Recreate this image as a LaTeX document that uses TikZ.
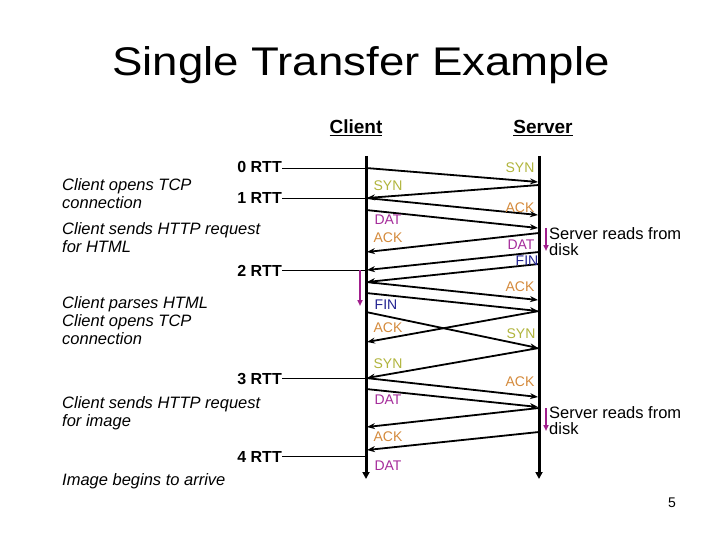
\documentclass[tikz,border=0pt]{standalone}
\usepackage{fontspec}
\setmainfont{Liberation Sans}
\usetikzlibrary{arrows.meta}
\definecolor{sync}{RGB}{176,180,60}
\definecolor{ackc}{RGB}{212,138,60}
\definecolor{datc}{RGB}{165,45,155}
\definecolor{finc}{RGB}{35,35,145}
\definecolor{procc}{RGB}{160,30,140}
\tikzset{
  life/.style={line width=3pt,-{Triangle[length=7pt,width=7pt]}},
  msg/.style={line width=1.8pt,-{Stealth[length=8pt,width=6pt]}},
  proc/.style={line width=1.6pt,procc,-{Triangle[length=6pt,width=5pt]}},
  rttline/.style={line width=0.8pt},
  rtt/.style={anchor=base east,inner sep=0pt,font=\fontsize{16}{18}\selectfont\bfseries},
  desc/.style={anchor=base west,inner sep=0pt,align=left,font=\fontsize{16.5}{18}\selectfont\itshape},
  lbl/.style={inner sep=0pt,font=\fontsize{14}{16}\selectfont},
  head/.style={inner sep=0pt,font=\fontsize{19}{22}\selectfont\bfseries},
  note/.style={anchor=north west,inner sep=0pt,align=left,font=\fontsize{16.5}{16.5}\selectfont}
}
\begin{document}
\begin{tikzpicture}[x=1pt,y=-1pt]
\useasboundingbox (0,0) rectangle (720,540);
% title
\node[inner sep=0pt,anchor=base] (title) at (361,76) {\scalebox{1.14}[1]{\fontsize{40}{46}\selectfont Single Transfer Example}};
\node[head] (client) at (356,128) {\underline{Client}};
\node[head] (server) at (543,128) {\underline{Server}};
% lifelines
\coordinate (cTop) at (366,156);
\coordinate (cBot) at (366,479);
\coordinate (sTop) at (539,156);
\coordinate (sBot) at (539,479);
\draw[life] (cTop) -- (cBot);
\draw[life] (sTop) -- (sBot);
% RTT marks
\node[rtt] (r0) at (282,173) {0 RTT};
\node[rtt] (r1) at (282,204) {1 RTT};
\node[rtt] (r2) at (282,276) {2 RTT};
\node[rtt] (r3) at (282,384) {3 RTT};
\node[rtt] (r4) at (282,462) {4 RTT};
\coordinate (c0) at (366,168);
\coordinate (c1) at (366,198);
\coordinate (c2) at (366,270);
\coordinate (c3) at (366,378);
\coordinate (c4) at (366,456);
\draw[rttline] (r0.east |- c0) -- (c0);
\draw[rttline] (r1.east |- c1) -- (c1);
\draw[rttline] (r2.east |- c2) -- (c2);
\draw[rttline] (r3.east |- c3) -- (c3);
\draw[rttline] (r4.east |- c4) -- (c4);
% descriptions (base = baseline of last line)
\node[desc] (d1) at (62,209) {Client opens TCP\\connection};
\node[desc] (d2) at (62,252) {Client sends HTTP request\\for HTML};
\node[desc] (d3) at (62,344) {Client parses HTML\\Client opens TCP\\connection};
\node[desc] (d4) at (62,426) {Client sends HTTP request\\for image};
\node[desc] (d5) at (62,485) {Image begins to arrive};
% message endpoints
\coordinate (m1a) at (366,168); \coordinate (m1b) at (538,182);
\coordinate (m2a) at (539,185); \coordinate (m2b) at (367,198);
\coordinate (m3a) at (366,198); \coordinate (m3b) at (538,215);
\coordinate (m4a) at (366,210); \coordinate (m4b) at (538,228);
\coordinate (m5a) at (539,233); \coordinate (m5b) at (367,252);
\coordinate (m6a) at (539,252); \coordinate (m6b) at (367,270);
\coordinate (m7a) at (539,264); \coordinate (m7b) at (367,282);
\coordinate (m8a) at (366,282); \coordinate (m8b) at (538,300);
\coordinate (m9a) at (366,293); \coordinate (m9b) at (538,311);
\coordinate (m10a) at (539,311); \coordinate (m10b) at (367,342);
\coordinate (m11a) at (366,312); \coordinate (m11b) at (538,348);
\coordinate (m12a) at (539,348); \coordinate (m12b) at (367,378);
\coordinate (m13a) at (366,378); \coordinate (m13b) at (538,397);
\coordinate (m14a) at (366,389); \coordinate (m14b) at (538,407);
\coordinate (m15a) at (539,408); \coordinate (m15b) at (367,427);
\coordinate (m16a) at (539,432); \coordinate (m16b) at (367,450);
\foreach \i in {1,...,16} \draw[msg] (m\i a) -- (m\i b);
% message labels
\node[lbl,text=sync] (l1) at (520,168) {SYN};
\node[lbl,text=sync] (l2) at (388,186) {SYN};
\node[lbl,text=ackc] (l3) at (520,208) {ACK};
\node[lbl,text=datc] (l4) at (388,220) {DAT};
\node[lbl,text=ackc] (l5) at (388,238) {ACK};
\node[lbl,text=datc] (l6) at (521,245) {DAT};
\node[lbl,text=finc] (l7) at (527,261) {FIN};
\node[lbl,text=ackc] (l8) at (520,287) {ACK};
\node[lbl,text=finc] (l9) at (386,305) {FIN};
\node[lbl,text=ackc] (l10) at (388,328) {ACK};
\node[lbl,text=sync] (l11) at (521,334) {SYN};
\node[lbl,text=sync] (l12) at (388,364) {SYN};
\node[lbl,text=ackc] (l13) at (520,382) {ACK};
\node[lbl,text=datc] (l14) at (388,400) {DAT};
\node[lbl,text=ackc] (l15) at (388,437) {ACK};
\node[lbl,text=datc] (l16) at (388,466) {DAT};
% processing arrows
\coordinate (p1a) at (360,270); \coordinate (p1b) at (360,306);
\draw[proc] (p1a) -- (p1b);
\coordinate (p2a) at (546,228); \coordinate (p2b) at (546,251);
\draw[proc] (p2a) -- (p2b);
\coordinate (p3a) at (546,408); \coordinate (p3b) at (546,431);
\draw[proc] (p3a) -- (p3b);
\node[note] (n1) at (549,227) {Server reads from\\disk};
\node[note] (n2) at (549,406) {Server reads from\\disk};
% page number
\node[inner sep=0pt,font=\fontsize{14}{16}\selectfont] (pg) at (672,503) {5};
\end{tikzpicture}
\end{document}
